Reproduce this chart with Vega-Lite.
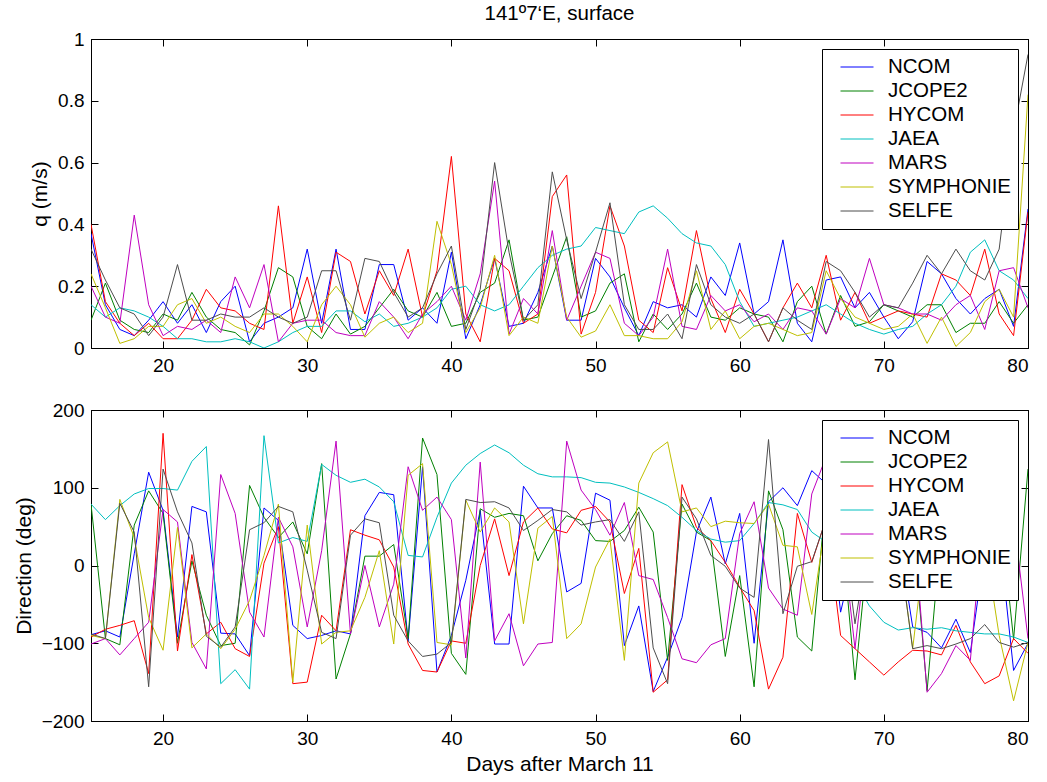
{
"$schema": "https://vega.github.io/schema/vega-lite/v6.json",
"background": "white",
"autosize": {"type": "pad"},
"padding": {"left": 12, "top": 3, "right": 17, "bottom": 5},
"datasets": {
"q": [
{"day":15,"NCOM":0.37,"JCOPE2":0.09,"HYCOM":0.40,"JAEA":0.14,"MARS":0.20,"SYMPHONIE":0.24,"SELFE":0.32},
{"day":16,"NCOM":0.14,"JCOPE2":0.21,"HYCOM":0.15,"JAEA":0.10,"MARS":0.10,"SYMPHONIE":0.13,"SELFE":0.22},
{"day":17,"NCOM":0.06,"JCOPE2":0.09,"HYCOM":0.08,"JAEA":0.13,"MARS":0.08,"SYMPHONIE":0.015,"SELFE":0.13},
{"day":18,"NCOM":0.04,"JCOPE2":0.06,"HYCOM":0.04,"JAEA":0.12,"MARS":0.43,"SYMPHONIE":0.03,"SELFE":0.11},
{"day":19,"NCOM":0.09,"JCOPE2":0.05,"HYCOM":0.08,"JAEA":0.10,"MARS":0.14,"SYMPHONIE":0.07,"SELFE":0.04},
{"day":20,"NCOM":0.15,"JCOPE2":0.11,"HYCOM":0.03,"JAEA":0.07,"MARS":0.04,"SYMPHONIE":0.07,"SELFE":0.10},
{"day":21,"NCOM":0.08,"JCOPE2":0.09,"HYCOM":0.03,"JAEA":0.03,"MARS":0.07,"SYMPHONIE":0.14,"SELFE":0.27},
{"day":22,"NCOM":0.14,"JCOPE2":0.18,"HYCOM":0.09,"JAEA":0.03,"MARS":0.06,"SYMPHONIE":0.16,"SELFE":0.09},
{"day":23,"NCOM":0.05,"JCOPE2":0.10,"HYCOM":0.19,"JAEA":0.02,"MARS":0.09,"SYMPHONIE":0.08,"SELFE":0.09},
{"day":24,"NCOM":0.15,"JCOPE2":0.06,"HYCOM":0.13,"JAEA":0.02,"MARS":0.05,"SYMPHONIE":0.10,"SELFE":0.11},
{"day":25,"NCOM":0.20,"JCOPE2":0.05,"HYCOM":0.12,"JAEA":0.03,"MARS":0.23,"SYMPHONIE":0.07,"SELFE":0.10},
{"day":26,"NCOM":0.02,"JCOPE2":0.01,"HYCOM":0.08,"JAEA":0.02,"MARS":0.13,"SYMPHONIE":0.05,"SELFE":0.10},
{"day":27,"NCOM":0.08,"JCOPE2":0.12,"HYCOM":0.06,"JAEA":0.00,"MARS":0.27,"SYMPHONIE":0.11,"SELFE":0.13},
{"day":28,"NCOM":0.10,"JCOPE2":0.26,"HYCOM":0.46,"JAEA":0.02,"MARS":0.02,"SYMPHONIE":0.11,"SELFE":0.10},
{"day":29,"NCOM":0.13,"JCOPE2":0.23,"HYCOM":0.08,"JAEA":0.05,"MARS":0.08,"SYMPHONIE":0.07,"SELFE":0.08},
{"day":30,"NCOM":0.32,"JCOPE2":0.07,"HYCOM":0.23,"JAEA":0.07,"MARS":0.09,"SYMPHONIE":0.02,"SELFE":0.10},
{"day":31,"NCOM":0.08,"JCOPE2":0.03,"HYCOM":0.05,"JAEA":0.07,"MARS":0.09,"SYMPHONIE":0.14,"SELFE":0.25},
{"day":32,"NCOM":0.32,"JCOPE2":0.11,"HYCOM":0.31,"JAEA":0.12,"MARS":0.05,"SYMPHONIE":0.20,"SELFE":0.25},
{"day":33,"NCOM":0.06,"JCOPE2":0.045,"HYCOM":0.28,"JAEA":0.12,"MARS":0.04,"SYMPHONIE":0.14,"SELFE":0.09},
{"day":34,"NCOM":0.06,"JCOPE2":0.07,"HYCOM":0.11,"JAEA":0.085,"MARS":0.04,"SYMPHONIE":0.035,"SELFE":0.29},
{"day":35,"NCOM":0.27,"JCOPE2":0.13,"HYCOM":0.25,"JAEA":0.11,"MARS":0.15,"SYMPHONIE":0.08,"SELFE":0.28},
{"day":36,"NCOM":0.27,"JCOPE2":0.19,"HYCOM":0.17,"JAEA":0.07,"MARS":0.10,"SYMPHONIE":0.10,"SELFE":0.18},
{"day":37,"NCOM":0.09,"JCOPE2":0.12,"HYCOM":0.32,"JAEA":0.08,"MARS":0.03,"SYMPHONIE":0.05,"SELFE":0.10},
{"day":38,"NCOM":0.13,"JCOPE2":0.10,"HYCOM":0.10,"JAEA":0.10,"MARS":0.11,"SYMPHONIE":0.08,"SELFE":0.13},
{"day":39,"NCOM":0.08,"JCOPE2":0.18,"HYCOM":0.25,"JAEA":0.13,"MARS":0.15,"SYMPHONIE":0.41,"SELFE":0.24},
{"day":40,"NCOM":0.31,"JCOPE2":0.07,"HYCOM":0.62,"JAEA":0.19,"MARS":0.20,"SYMPHONIE":0.27,"SELFE":0.33},
{"day":41,"NCOM":0.03,"JCOPE2":0.08,"HYCOM":0.11,"JAEA":0.20,"MARS":0.09,"SYMPHONIE":0.05,"SELFE":0.06},
{"day":42,"NCOM":0.14,"JCOPE2":0.18,"HYCOM":0.02,"JAEA":0.14,"MARS":0.24,"SYMPHONIE":0.13,"SELFE":0.19},
{"day":43,"NCOM":0.29,"JCOPE2":0.21,"HYCOM":0.29,"JAEA":0.12,"MARS":0.54,"SYMPHONIE":0.30,"SELFE":0.60},
{"day":44,"NCOM":0.07,"JCOPE2":0.35,"HYCOM":0.25,"JAEA":0.14,"MARS":0.045,"SYMPHONIE":0.04,"SELFE":0.31},
{"day":45,"NCOM":0.08,"JCOPE2":0.09,"HYCOM":0.08,"JAEA":0.20,"MARS":0.16,"SYMPHONIE":0.10,"SELFE":0.09},
{"day":46,"NCOM":0.18,"JCOPE2":0.10,"HYCOM":0.11,"JAEA":0.26,"MARS":0.11,"SYMPHONIE":0.08,"SELFE":0.14},
{"day":47,"NCOM":0.33,"JCOPE2":0.23,"HYCOM":0.49,"JAEA":0.30,"MARS":0.38,"SYMPHONIE":0.33,"SELFE":0.57},
{"day":48,"NCOM":0.09,"JCOPE2":0.36,"HYCOM":0.56,"JAEA":0.32,"MARS":0.09,"SYMPHONIE":0.10,"SELFE":0.35},
{"day":49,"NCOM":0.09,"JCOPE2":0.10,"HYCOM":0.045,"JAEA":0.33,"MARS":0.20,"SYMPHONIE":0.035,"SELFE":0.16},
{"day":50,"NCOM":0.29,"JCOPE2":0.12,"HYCOM":0.18,"JAEA":0.39,"MARS":0.31,"SYMPHONIE":0.055,"SELFE":0.31},
{"day":51,"NCOM":0.23,"JCOPE2":0.21,"HYCOM":0.46,"JAEA":0.38,"MARS":0.29,"SYMPHONIE":0.14,"SELFE":0.47},
{"day":52,"NCOM":0.13,"JCOPE2":0.24,"HYCOM":0.33,"JAEA":0.37,"MARS":0.08,"SYMPHONIE":0.04,"SELFE":0.14},
{"day":53,"NCOM":0.04,"JCOPE2":0.02,"HYCOM":0.09,"JAEA":0.44,"MARS":0.04,"SYMPHONIE":0.04,"SELFE":0.06},
{"day":54,"NCOM":0.15,"JCOPE2":0.11,"HYCOM":0.05,"JAEA":0.46,"MARS":0.10,"SYMPHONIE":0.03,"SELFE":0.06},
{"day":55,"NCOM":0.13,"JCOPE2":0.06,"HYCOM":0.26,"JAEA":0.42,"MARS":0.32,"SYMPHONIE":0.03,"SELFE":0.11},
{"day":56,"NCOM":0.14,"JCOPE2":0.11,"HYCOM":0.12,"JAEA":0.37,"MARS":0.07,"SYMPHONIE":0.085,"SELFE":0.03},
{"day":57,"NCOM":0.10,"JCOPE2":0.21,"HYCOM":0.38,"JAEA":0.34,"MARS":0.06,"SYMPHONIE":0.25,"SELFE":0.27},
{"day":58,"NCOM":0.23,"JCOPE2":0.10,"HYCOM":0.16,"JAEA":0.33,"MARS":0.17,"SYMPHONIE":0.06,"SELFE":0.14},
{"day":59,"NCOM":0.17,"JCOPE2":0.09,"HYCOM":0.05,"JAEA":0.27,"MARS":0.12,"SYMPHONIE":0.12,"SELFE":0.10},
{"day":60,"NCOM":0.34,"JCOPE2":0.13,"HYCOM":0.19,"JAEA":0.15,"MARS":0.14,"SYMPHONIE":0.03,"SELFE":0.08},
{"day":61,"NCOM":0.11,"JCOPE2":0.11,"HYCOM":0.11,"JAEA":0.07,"MARS":0.085,"SYMPHONIE":0.07,"SELFE":0.11},
{"day":62,"NCOM":0.15,"JCOPE2":0.10,"HYCOM":0.02,"JAEA":0.08,"MARS":0.11,"SYMPHONIE":0.08,"SELFE":0.02},
{"day":63,"NCOM":0.35,"JCOPE2":0.02,"HYCOM":0.13,"JAEA":0.09,"MARS":0.06,"SYMPHONIE":0.06,"SELFE":0.13},
{"day":64,"NCOM":0.08,"JCOPE2":0.15,"HYCOM":0.21,"JAEA":0.10,"MARS":0.13,"SYMPHONIE":0.04,"SELFE":0.09},
{"day":65,"NCOM":0.02,"JCOPE2":0.20,"HYCOM":0.13,"JAEA":0.12,"MARS":0.12,"SYMPHONIE":0.05,"SELFE":0.06},
{"day":66,"NCOM":0.22,"JCOPE2":0.045,"HYCOM":0.30,"JAEA":0.14,"MARS":0.045,"SYMPHONIE":0.25,"SELFE":0.28},
{"day":67,"NCOM":0.23,"JCOPE2":0.17,"HYCOM":0.09,"JAEA":0.11,"MARS":0.16,"SYMPHONIE":0.16,"SELFE":0.25},
{"day":68,"NCOM":0.13,"JCOPE2":0.07,"HYCOM":0.18,"JAEA":0.08,"MARS":0.13,"SYMPHONIE":0.10,"SELFE":0.18},
{"day":69,"NCOM":0.18,"JCOPE2":0.085,"HYCOM":0.08,"JAEA":0.06,"MARS":0.29,"SYMPHONIE":0.08,"SELFE":0.10},
{"day":70,"NCOM":0.10,"JCOPE2":0.14,"HYCOM":0.10,"JAEA":0.045,"MARS":0.14,"SYMPHONIE":0.06,"SELFE":0.14},
{"day":71,"NCOM":0.03,"JCOPE2":0.12,"HYCOM":0.12,"JAEA":0.06,"MARS":0.13,"SYMPHONIE":0.07,"SELFE":0.13},
{"day":72,"NCOM":0.085,"JCOPE2":0.10,"HYCOM":0.11,"JAEA":0.07,"MARS":0.11,"SYMPHONIE":0.11,"SELFE":0.21},
{"day":73,"NCOM":0.28,"JCOPE2":0.14,"HYCOM":0.10,"JAEA":0.11,"MARS":0.11,"SYMPHONIE":0.015,"SELFE":0.30},
{"day":74,"NCOM":0.24,"JCOPE2":0.14,"HYCOM":0.24,"JAEA":0.14,"MARS":0.09,"SYMPHONIE":0.10,"SELFE":0.24},
{"day":75,"NCOM":0.16,"JCOPE2":0.05,"HYCOM":0.22,"JAEA":0.20,"MARS":0.14,"SYMPHONIE":0.005,"SELFE":0.32},
{"day":76,"NCOM":0.11,"JCOPE2":0.08,"HYCOM":0.17,"JAEA":0.31,"MARS":0.17,"SYMPHONIE":0.05,"SELFE":0.25},
{"day":77,"NCOM":0.16,"JCOPE2":0.08,"HYCOM":0.32,"JAEA":0.35,"MARS":0.06,"SYMPHONIE":0.15,"SELFE":0.22},
{"day":78,"NCOM":0.19,"JCOPE2":0.15,"HYCOM":0.11,"JAEA":0.25,"MARS":0.25,"SYMPHONIE":0.19,"SELFE":0.32},
{"day":79,"NCOM":0.07,"JCOPE2":0.08,"HYCOM":0.04,"JAEA":0.22,"MARS":0.26,"SYMPHONIE":0.10,"SELFE":0.70},
{"day":80,"NCOM":0.45,"JCOPE2":0.14,"HYCOM":0.44,"JAEA":0.16,"MARS":0.13,"SYMPHONIE":0.82,"SELFE":0.95}
],
"dir": [
{"day":15,"NCOM":-89,"JCOPE2":79,"HYCOM":-92,"JAEA":79,"MARS":-101,"SYMPHONIE":-90,"SELFE":-88},
{"day":16,"NCOM":-84,"JCOPE2":-94,"HYCOM":-82,"JAEA":59,"MARS":-94,"SYMPHONIE":-94,"SELFE":-94},
{"day":17,"NCOM":-92,"JCOPE2":-102,"HYCOM":-77,"JAEA":77,"MARS":-115,"SYMPHONIE":85,"SELFE":80},
{"day":18,"NCOM":15,"JCOPE2":52,"HYCOM":-71,"JAEA":92,"MARS":-94,"SYMPHONIE":36,"SELFE":43},
{"day":19,"NCOM":120,"JCOPE2":96,"HYCOM":-139,"JAEA":99,"MARS":-73,"SYMPHONIE":-67,"SELFE":-156},
{"day":20,"NCOM":71,"JCOPE2":67,"HYCOM":170,"JAEA":99,"MARS":72,"SYMPHONIE":-109,"SELFE":124},
{"day":21,"NCOM":-92,"JCOPE2":-100,"HYCOM":-110,"JAEA":97,"MARS":56,"SYMPHONIE":49,"SELFE":69},
{"day":22,"NCOM":76,"JCOPE2":6,"HYCOM":14,"JAEA":134,"MARS":-99,"SYMPHONIE":-106,"SELFE":29},
{"day":23,"NCOM":69,"JCOPE2":-64,"HYCOM":-88,"JAEA":153,"MARS":-133,"SYMPHONIE":-88,"SELFE":-91},
{"day":24,"NCOM":-87,"JCOPE2":-103,"HYCOM":-73,"JAEA":-152,"MARS":117,"SYMPHONIE":-107,"SELFE":-105},
{"day":25,"NCOM":-88,"JCOPE2":-100,"HYCOM":-107,"JAEA":-134,"MARS":67,"SYMPHONIE":-82,"SELFE":-79},
{"day":26,"NCOM":-116,"JCOPE2":103,"HYCOM":-117,"JAEA":-159,"MARS":-60,"SYMPHONIE":-45,"SELFE":46},
{"day":27,"NCOM":74,"JCOPE2":62,"HYCOM":3,"JAEA":167,"MARS":-92,"SYMPHONIE":13,"SELFE":55},
{"day":28,"NCOM":58,"JCOPE2":36,"HYCOM":50,"JAEA":29,"MARS":62,"SYMPHONIE":79,"SELFE":76},
{"day":29,"NCOM":-77,"JCOPE2":56,"HYCOM":-152,"JAEA":36,"MARS":24,"SYMPHONIE":-150,"SELFE":69},
{"day":30,"NCOM":-94,"JCOPE2":15,"HYCOM":-150,"JAEA":31,"MARS":-79,"SYMPHONIE":52,"SELFE":-6},
{"day":31,"NCOM":-90,"JCOPE2":131,"HYCOM":-64,"JAEA":130,"MARS":19,"SYMPHONIE":-101,"SELFE":-86},
{"day":32,"NCOM":-84,"JCOPE2":-146,"HYCOM":-84,"JAEA":116,"MARS":160,"SYMPHONIE":-86,"SELFE":-94},
{"day":33,"NCOM":-88,"JCOPE2":-88,"HYCOM":46,"JAEA":107,"MARS":-88,"SYMPHONIE":-84,"SELFE":39},
{"day":34,"NCOM":64,"JCOPE2":12,"HYCOM":39,"JAEA":111,"MARS":0,"SYMPHONIE":-41,"SELFE":60},
{"day":35,"NCOM":94,"JCOPE2":12,"HYCOM":33,"JAEA":101,"MARS":-79,"SYMPHONIE":19,"SELFE":55},
{"day":36,"NCOM":91,"JCOPE2":27,"HYCOM":-2,"JAEA":82,"MARS":-24,"SYMPHONIE":-101,"SELFE":-64},
{"day":37,"NCOM":-97,"JCOPE2":-94,"HYCOM":-101,"JAEA":13,"MARS":127,"SYMPHONIE":116,"SELFE":-97},
{"day":38,"NCOM":127,"JCOPE2":164,"HYCOM":-135,"JAEA":11,"MARS":71,"SYMPHONIE":131,"SELFE":-117},
{"day":39,"NCOM":-137,"JCOPE2":117,"HYCOM":-137,"JAEA":62,"MARS":88,"SYMPHONIE":-99,"SELFE":-114},
{"day":40,"NCOM":-90,"JCOPE2":-113,"HYCOM":-97,"JAEA":106,"MARS":59,"SYMPHONIE":-102,"SELFE":-99},
{"day":41,"NCOM":-19,"JCOPE2":-140,"HYCOM":-100,"JAEA":129,"MARS":-119,"SYMPHONIE":84,"SELFE":85},
{"day":42,"NCOM":71,"JCOPE2":73,"HYCOM":0,"JAEA":144,"MARS":133,"SYMPHONIE":43,"SELFE":81},
{"day":43,"NCOM":-101,"JCOPE2":62,"HYCOM":60,"JAEA":155,"MARS":-97,"SYMPHONIE":74,"SELFE":82},
{"day":44,"NCOM":-101,"JCOPE2":67,"HYCOM":-13,"JAEA":145,"MARS":-62,"SYMPHONIE":56,"SELFE":74},
{"day":45,"NCOM":102,"JCOPE2":64,"HYCOM":56,"JAEA":129,"MARS":-129,"SYMPHONIE":-75,"SELFE":45},
{"day":46,"NCOM":74,"JCOPE2":6,"HYCOM":74,"JAEA":118,"MARS":-101,"SYMPHONIE":48,"SELFE":58},
{"day":47,"NCOM":74,"JCOPE2":41,"HYCOM":47,"JAEA":114,"MARS":-99,"SYMPHONIE":63,"SELFE":72},
{"day":48,"NCOM":-34,"JCOPE2":64,"HYCOM":42,"JAEA":114,"MARS":160,"SYMPHONIE":-94,"SELFE":69},
{"day":49,"NCOM":-23,"JCOPE2":58,"HYCOM":71,"JAEA":113,"MARS":97,"SYMPHONIE":-75,"SELFE":52},
{"day":50,"NCOM":93,"JCOPE2":32,"HYCOM":76,"JAEA":107,"MARS":72,"SYMPHONIE":-2,"SELFE":56},
{"day":51,"NCOM":84,"JCOPE2":31,"HYCOM":56,"JAEA":106,"MARS":39,"SYMPHONIE":34,"SELFE":59},
{"day":52,"NCOM":-103,"JCOPE2":45,"HYCOM":-36,"JAEA":101,"MARS":81,"SYMPHONIE":-122,"SELFE":31},
{"day":53,"NCOM":-52,"JCOPE2":75,"HYCOM":22,"JAEA":94,"MARS":-13,"SYMPHONIE":106,"SELFE":69},
{"day":54,"NCOM":-162,"JCOPE2":43,"HYCOM":-163,"JAEA":86,"MARS":-18,"SYMPHONIE":145,"SELFE":-106},
{"day":55,"NCOM":-118,"JCOPE2":-122,"HYCOM":-147,"JAEA":77,"MARS":-67,"SYMPHONIE":159,"SELFE":-152},
{"day":56,"NCOM":-67,"JCOPE2":79,"HYCOM":104,"JAEA":62,"MARS":-120,"SYMPHONIE":69,"SELFE":88},
{"day":57,"NCOM":43,"JCOPE2":43,"HYCOM":49,"JAEA":45,"MARS":-125,"SYMPHONIE":74,"SELFE":60},
{"day":58,"NCOM":88,"JCOPE2":32,"HYCOM":32,"JAEA":34,"MARS":-102,"SYMPHONIE":50,"SELFE":13},
{"day":59,"NCOM":2,"JCOPE2":-117,"HYCOM":4,"JAEA":30,"MARS":-94,"SYMPHONIE":57,"SELFE":-1},
{"day":60,"NCOM":67,"JCOPE2":-13,"HYCOM":-28,"JAEA":32,"MARS":41,"SYMPHONIE":55,"SELFE":-29},
{"day":61,"NCOM":-100,"JCOPE2":-156,"HYCOM":-58,"JAEA":54,"MARS":82,"SYMPHONIE":54,"SELFE":-41},
{"day":62,"NCOM":82,"JCOPE2":96,"HYCOM":-159,"JAEA":81,"MARS":-29,"SYMPHONIE":79,"SELFE":162},
{"day":63,"NCOM":100,"JCOPE2":46,"HYCOM":-118,"JAEA":78,"MARS":-56,"SYMPHONIE":26,"SELFE":-62},
{"day":64,"NCOM":77,"JCOPE2":-92,"HYCOM":67,"JAEA":72,"MARS":-64,"SYMPHONIE":24,"SELFE":-1},
{"day":65,"NCOM":122,"JCOPE2":-110,"HYCOM":4,"JAEA":43,"MARS":92,"SYMPHONIE":-63,"SELFE":5},
{"day":66,"NCOM":105,"JCOPE2":90,"HYCOM":60,"JAEA":30,"MARS":140,"SYMPHONIE":60,"SELFE":60},
{"day":67,"NCOM":-60,"JCOPE2":60,"HYCOM":-90,"JAEA":10,"MARS":60,"SYMPHONIE":40,"SELFE":70},
{"day":68,"NCOM":20,"JCOPE2":-147,"HYCOM":-107,"JAEA":-20,"MARS":-107,"SYMPHONIE":20,"SELFE":-75},
{"day":69,"NCOM":-40,"JCOPE2":40,"HYCOM":-124,"JAEA":-52,"MARS":60,"SYMPHONIE":50,"SELFE":40},
{"day":70,"NCOM":30,"JCOPE2":-39,"HYCOM":-141,"JAEA":-73,"MARS":80,"SYMPHONIE":10,"SELFE":20},
{"day":71,"NCOM":40,"JCOPE2":70,"HYCOM":-124,"JAEA":-83,"MARS":40,"SYMPHONIE":30,"SELFE":30},
{"day":72,"NCOM":-79,"JCOPE2":50,"HYCOM":-109,"JAEA":-80,"MARS":70,"SYMPHONIE":-107,"SELFE":-107},
{"day":73,"NCOM":-86,"JCOPE2":-161,"HYCOM":-110,"JAEA":-82,"MARS":-163,"SYMPHONIE":50,"SELFE":-103},
{"day":74,"NCOM":-106,"JCOPE2":50,"HYCOM":-115,"JAEA":-80,"MARS":-139,"SYMPHONIE":40,"SELFE":-107},
{"day":75,"NCOM":-69,"JCOPE2":60,"HYCOM":-77,"JAEA":-84,"MARS":-103,"SYMPHONIE":60,"SELFE":-101},
{"day":76,"NCOM":-112,"JCOPE2":70,"HYCOM":-124,"JAEA":-86,"MARS":-122,"SYMPHONIE":20,"SELFE":-94},
{"day":77,"NCOM":20,"JCOPE2":40,"HYCOM":-152,"JAEA":-88,"MARS":80,"SYMPHONIE":30,"SELFE":-76},
{"day":78,"NCOM":40,"JCOPE2":80,"HYCOM":-142,"JAEA":-88,"MARS":100,"SYMPHONIE":-90,"SELFE":-99},
{"day":79,"NCOM":-135,"JCOPE2":-95,"HYCOM":-94,"JAEA":-92,"MARS":60,"SYMPHONIE":-174,"SELFE":-105},
{"day":80,"NCOM":-100,"JCOPE2":124,"HYCOM":-113,"JAEA":-99,"MARS":-94,"SYMPHONIE":-99,"SELFE":-99}
]
},
"vconcat": [
{
"width": 937, "height": 309,
"data": {"name": "q"},
"transform": [{"fold": ["NCOM","JCOPE2","HYCOM","JAEA","MARS","SYMPHONIE","SELFE"], "as": ["model","v"]}],
"title": {"text": "141º7‘E, surface", "anchor": "middle", "frame": "group", "font": "Liberation Sans", "fontSize": 20.5, "fontWeight": "normal", "color": "black", "offset": 6},
"layer": [
{"mark": {"type": "line", "strokeWidth": 1, "clip": true},
 "encoding": {
  "x": {"field": "day", "type": "quantitative", "scale": {"domain": [15,80], "nice": false, "zero": false}, "axis": {"values": [20,30,40,50,60,70,80], "title": null, "orient": "bottom"}},
  "y": {"field": "v", "type": "quantitative", "scale": {"domain": [0,1], "nice": false}, "axis": {"values": [0,0.2,0.4,0.6,0.8,1], "format": "~g", "title": "q (m/s)", "orient": "left"}},
  "color": {"field": "model", "type": "nominal", "sort": null, "scale": {"domain": ["NCOM","JCOPE2","HYCOM","JAEA","MARS","SYMPHONIE","SELFE"]}, "legend": {"title": null}}
 }},
{"mark": {"type": "point", "size": 0},
 "encoding": {
  "x": {"field": "day", "type": "quantitative", "axis": {"values": [20,30,40,50,60,70,80], "title": null, "orient": "top", "labels": false}},
  "y": {"field": "v", "type": "quantitative", "axis": {"values": [0,0.2,0.4,0.6,0.8,1], "title": null, "orient": "right", "labels": false}}
 }}
],
"resolve": {"axis": {"x": "independent", "y": "independent"}}
},
{
"width": 937, "height": 311,
"data": {"name": "dir"},
"transform": [{"fold": ["NCOM","JCOPE2","HYCOM","JAEA","MARS","SYMPHONIE","SELFE"], "as": ["model","v"]}],
"layer": [
{"mark": {"type": "line", "strokeWidth": 1, "clip": true},
 "encoding": {
  "x": {"field": "day", "type": "quantitative", "scale": {"domain": [15,80], "nice": false, "zero": false}, "axis": {"values": [20,30,40,50,60,70,80], "title": "Days after March 11", "orient": "bottom"}},
  "y": {"field": "v", "type": "quantitative", "scale": {"domain": [-200,200], "nice": false}, "axis": {"values": [-200,-100,0,100,200], "title": "Direction (deg)", "orient": "left"}},
  "color": {"field": "model", "type": "nominal", "sort": null, "scale": {"domain": ["NCOM","JCOPE2","HYCOM","JAEA","MARS","SYMPHONIE","SELFE"]}, "legend": {"title": null}}
 }},
{"mark": {"type": "point", "size": 0},
 "encoding": {
  "x": {"field": "day", "type": "quantitative", "axis": {"values": [20,30,40,50,60,70,80], "title": null, "orient": "top", "labels": false}},
  "y": {"field": "v", "type": "quantitative", "axis": {"values": [-200,-100,0,100,200], "title": null, "orient": "right", "labels": false}}
 }}
],
"resolve": {"axis": {"x": "independent", "y": "independent"}}
}
],
"spacing": 24,
"resolve": {"scale": {"color": "independent"}, "legend": {"color": "independent"}},
"config": {
 "view": {"stroke": "black", "strokeWidth": 1},
 "font": "Liberation Sans",
 "range": {"category": ["#0000ff","#008000","#ff0000","#00bfbf","#bf00bf","#bfbf00","#4d4d4d"]},
 "axis": {"domainColor": "black", "domainWidth": 1, "tickColor": "black", "tickWidth": 1, "tickSize": -7, "labelColor": "black", "titleColor": "black", "labelFont": "Liberation Sans", "titleFont": "Liberation Sans", "labelFontSize": 19, "titleFontSize": 21, "titleFontWeight": "normal", "grid": false, "labelPadding": 14, "titlePadding": 7},
 "axisX": {"labelPadding": 15, "titlePadding": 5},
 "legend": {"orient": "top-right", "offset": 10, "strokeColor": "black", "strokeWidth": 1, "fillColor": "white", "padding": 6, "labelFont": "Liberation Sans", "labelFontSize": 20.5, "labelColor": "black", "symbolType": "stroke", "symbolSize": 1089, "symbolStrokeWidth": 1, "symbolOpacity": 1, "symbolOffset": 12, "clipHeight": 24, "rowPadding": 0, "labelOffset": 14, "cornerRadius": 0}
}
}
